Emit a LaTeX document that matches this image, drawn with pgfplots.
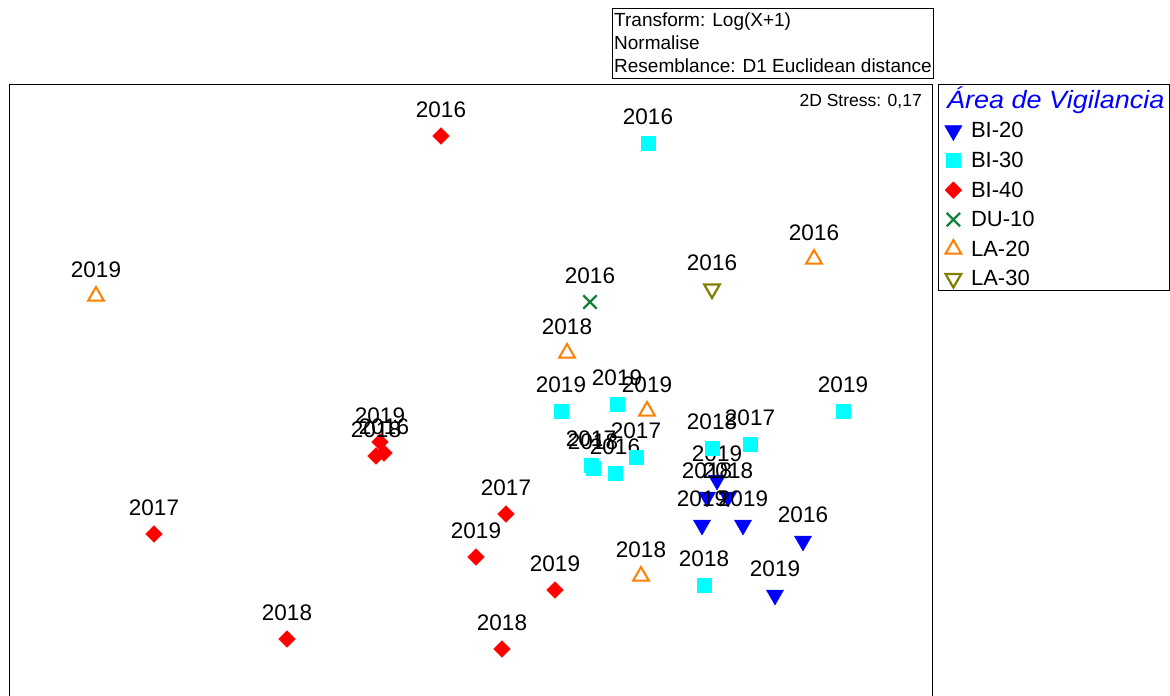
\documentclass[border=0pt]{standalone}
\usepackage{pgfplots}
\pgfplotsset{compat=1.18}
\usepackage{fontspec}
\setmainfont{Liberation Sans}
\definecolor{mcyan}{RGB}{0,255,255}
\definecolor{mgreen}{RGB}{20,128,60}
\definecolor{morange}{RGB}{255,128,0}
\definecolor{molive}{RGB}{128,128,0}
\begin{document}
\begin{tikzpicture}
\begin{axis}[
  at={(9pt,-84pt)}, anchor=north west,
  scale only axis, width=923pt, height=656pt,
  xmin=9, xmax=932, ymin=-740, ymax=-84,
  xtick=\empty, ytick=\empty,
  axis line style={line width=0.8pt},
  clip=false,
  only marks,
  point meta=explicit symbolic,
  nodes near coords,
  nodes near coords align={anchor=base},
  every node near coord/.append style={inner sep=0pt, yshift=19pt, text=black, font=\fontsize{22.5}{26}\selectfont},
  legend style={draw=none, fill=none, at={(1.0103,0.9466)}, anchor=north west,
    font=\fontsize{22}{26}\selectfont, row sep=10.6pt,
    nodes={inner sep=1pt},
    /tikz/every odd column/.append style={column sep=8pt}},
  legend cell align=left,
]
\addplot[mark=triangle*, mark size=10pt, mark options={rotate=180, fill=blue, draw=blue}, blue]
 coordinates {(717,-480)[2019] (707,-497)[2018] (728,-497)[2018] (702,-525)[2019] (743,-525)[2019] (803,-541)[2016] (775,-595)[2019]};
\addlegendentry{BI-20}
\addplot[mark=square*, mark size=7pt, mark options={fill=mcyan, draw=mcyan}, mcyan]
 coordinates {(648,-143)[2016] (561,-411)[2019] (617,-404)[2019] (591,-465)[2017] (593,-468)[2018] (615,-473)[2016] (636,-457)[2017] (712,-448)[2018] (750,-444)[2017] (843,-411)[2019] (704,-585)[2018]};
\addlegendentry{BI-30}
\addplot[mark=square*, mark size=5.9pt, mark options={rotate=45, fill=red, draw=red}, red]
 coordinates {(441,-136)[2016] (380,-442)[2019] (376,-456)[2018] (384,-453)[2016] (154,-534)[2017] (506,-514)[2017] (476,-557)[2019] (555,-590)[2019] (287,-639)[2018] (502,-649)[2018]};
\addlegendentry{BI-40}
\addplot[mark=x, mark size=9.5pt, mark options={line width=2.3pt, draw=mgreen}, mgreen]
 coordinates {(590,-302)[2016]};
\addlegendentry{DU-10}
\addplot[mark=triangle, mark size=9pt, mark options={line width=2pt, draw=morange}, morange]
 coordinates {(96,-296)[2019] (814,-259)[2016] (567,-353)[2018] (647,-411)[2019] (641,-576)[2018]};
\addlegendentry{LA-20}
\addplot[mark=triangle, mark size=9pt, mark options={rotate=180, line width=2.2pt, draw=molive}, molive]
 coordinates {(712,-289)[2016]};
\addlegendentry{LA-30}
\end{axis}
% legend frame and title
\draw[line width=0.8pt] (938pt,-84pt) rectangle (1169pt,-290pt);
\node[anchor=base west, inner sep=0pt, text=blue, font=\fontsize{25}{28}\selectfont\itshape] at (947pt,-108pt) {\scalebox{1.08}[1]{Área de Vigilancia}};
% text box
\draw[line width=0.8pt] (612pt,-8pt) rectangle (933pt,-78pt);
\node[anchor=base west, inner sep=0pt, font=\fontsize{19}{22}\selectfont] at (614pt,-26pt) {Transform: Log(X+1)};
\node[anchor=base west, inner sep=0pt, font=\fontsize{19}{22}\selectfont] at (614pt,-49pt) {Normalise};
\node[anchor=base west, inner sep=0pt, font=\fontsize{19}{22}\selectfont] at (614pt,-72pt) {Resemblance: D1 Euclidean distance};
\node[anchor=base east, inner sep=0pt, font=\fontsize{17.5}{20}\selectfont] at (922pt,-106pt) {2D Stress: 0,17};
\pgfresetboundingbox
\useasboundingbox (0pt,0pt) rectangle (1170pt,-696pt);
\end{tikzpicture}
\end{document}
